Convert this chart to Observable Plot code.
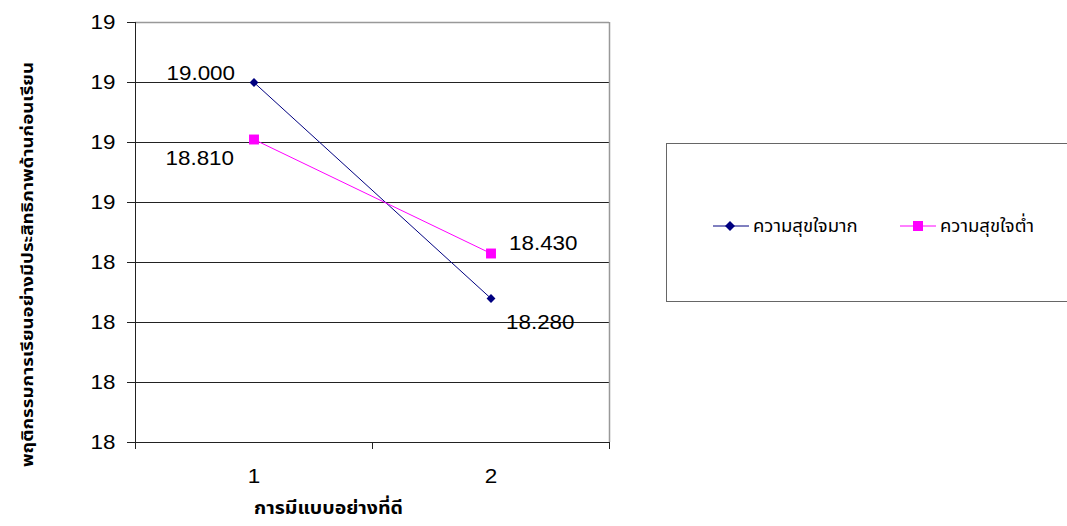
<!DOCTYPE html>
<html><head><meta charset="utf-8">
<script src="https://cdn.jsdelivr.net/npm/d3@7"></script>
<script src="https://cdn.jsdelivr.net/npm/@observablehq/plot@0.6"></script>
<style>
body{margin:0;background:#fff;}
#wrap{position:relative;width:1067px;height:526px;overflow:hidden;font-family:"Liberation Sans",Arial,sans-serif;}
#legend{position:absolute;left:666px;top:143px;width:420px;height:159px;border:1.5px solid #666;box-sizing:border-box;background:#fff;}
.item{position:absolute;top:68px;display:flex;align-items:center;font-size:18.5px;color:#000;font-family:"Noto Sans Thai","Noto Sans","DejaVu Sans",sans-serif;}
.item svg{margin-right:4px;}
</style></head><body><div id="wrap"></div>
<script>
const categories = [1, 2];
const seriesNames = ["ความสุขใจมาก", "ความสุขใจต่ำ"];
const highValues = [19.000, 18.280];
const lowValues = [18.810, 18.430];
const yTicks = [17.8, 18.0, 18.2, 18.4, 18.6, 18.8, 19.0, 19.2];
const xTitle = "การมีแบบอย่างที่ดี";
const yTitle = "พฤติกรรมการเรียนอย่างมีประสิทธิภาพด้านก่อนเรียน";
const colors = ["#000080", "#FF00FF"];

const rows = [];
[highValues, lowValues].forEach((vals, s) => {
  vals.forEach((v, i) => rows.push({series: seriesNames[s], x: categories[i], y: v, label: d3.format(".3f")(v)}));
});
const hi = rows.filter(d => d.series === seriesNames[0]);
const lo = rows.filter(d => d.series === seriesNames[1]);
const thaiFont = "'Noto Sans Thai','Noto Sans','DejaVu Sans',sans-serif";

const chart = Plot.plot({
  width: 1067, height: 526,
  marginLeft: 135, marginRight: 458, marginTop: 22, marginBottom: 84,
  style: {fontFamily: "'Liberation Sans', Arial, sans-serif", fontSize: "20px", color: "#000", background: "#fff"},
  x: {domain: [0.5, 2.5], axis: null},
  y: {domain: [17.8, 19.2], axis: null},
  marks: [
    Plot.ruleY(yTicks.slice(0, -1), {stroke: "#222", strokeWidth: 1}),
    Plot.ruleY([yTicks[yTicks.length - 1]], {stroke: "#999", strokeWidth: 1.5}),
    Plot.ruleX([2.5], {stroke: "#999", strokeWidth: 1.5}),
    Plot.ruleX([0.5], {stroke: "#222", strokeWidth: 1}),
    Plot.axisY(yTicks, {tickSize: 8, tickPadding: 12, tickFormat: d3.format(".0f"), fontSize: 20, label: null, stroke: "#222"}),
    Plot.axisX(categories, {tickSize: 0, tickPadding: 26, tickFormat: d3.format("d"), label: null, fontSize: 20}),
    Plot.axisX([0.5, 1.5, 2.5], {tickSize: 7, tickFormat: () => "", label: null, stroke: "#222"}),
    Plot.line(hi, {x: "x", y: "y", stroke: colors[0], strokeWidth: 1}),
    Plot.line(lo, {x: "x", y: "y", stroke: colors[1], strokeWidth: 1}),
    Plot.dot(hi, {x: "x", y: "y", symbol: "diamond2", r: 4, fill: colors[0], stroke: "none"}),
    Plot.dot(lo, {x: "x", y: "y", symbol: "square", r: 5.6, fill: colors[1], stroke: "none"}),
    Plot.text(hi.filter(d => d.x === 1), {x: "x", y: "y", text: "label", textAnchor: "end", dx: -19, dy: -9, fontSize: 20}),
    Plot.text(lo.filter(d => d.x === 1), {x: "x", y: "y", text: "label", textAnchor: "end", dx: -20, dy: 19, fontSize: 20}),
    Plot.text(hi.filter(d => d.x === 2), {x: "x", y: "y", text: "label", textAnchor: "start", dx: 15, dy: 24, fontSize: 20}),
    Plot.text(lo.filter(d => d.x === 2), {x: "x", y: "y", text: "label", textAnchor: "start", dx: 18, dy: -10, fontSize: 20}),
    Plot.text([yTitle], {frameAnchor: "left", textAnchor: "middle", lineAnchor: "middle", dx: -108, dy: 32, rotate: -90, fontWeight: "bold", fontSize: 16, fontFamily: thaiFont}),
    Plot.text([xTitle], {frameAnchor: "bottom", textAnchor: "middle", dx: -44, dy: 71, fontWeight: "bold", fontSize: 17, fontFamily: thaiFont})
  ]
});

const wrap = document.getElementById("wrap");
wrap.appendChild(chart);

// stretch numeric labels horizontally to match the reference's wide digits,
// and fit the Thai titles to the reference's lengths
chart.querySelectorAll("text").forEach(t => {
  const s = t.textContent.trim();
  let len = null;
  if (/^[0-9.]+$/.test(s)) len = t.getComputedTextLength() * 1.12;
  else if (s === yTitle) len = 405;
  else if (s === xTitle) len = 149;
  if (len != null) {
    t.setAttribute("textLength", len.toFixed(1));
    t.setAttribute("lengthAdjust", "spacingAndGlyphs");
  }
});

const legend = document.createElement("div");
legend.id = "legend";
const swatch = (i) => {
  const shape = i === 0
    ? `<path d="M17,4 L22,9 L17,14 L12,9 Z" fill="${colors[0]}"/>`
    : `<rect x="13" y="4" width="10" height="10" fill="${colors[1]}"/>`;
  return `<svg width="36" height="18"><line x1="0" y1="9" x2="36" y2="9" stroke="${colors[i]}" stroke-width="1"/>${shape}</svg>`;
};
const lefts = [46, 233];
seriesNames.forEach((name, i) => {
  const it = document.createElement("div");
  it.className = "item";
  it.style.left = lefts[i] + "px";
  it.innerHTML = swatch(i) + `<span>${name}</span>`;
  legend.appendChild(it);
});
wrap.appendChild(legend);
</script>
</body></html>
